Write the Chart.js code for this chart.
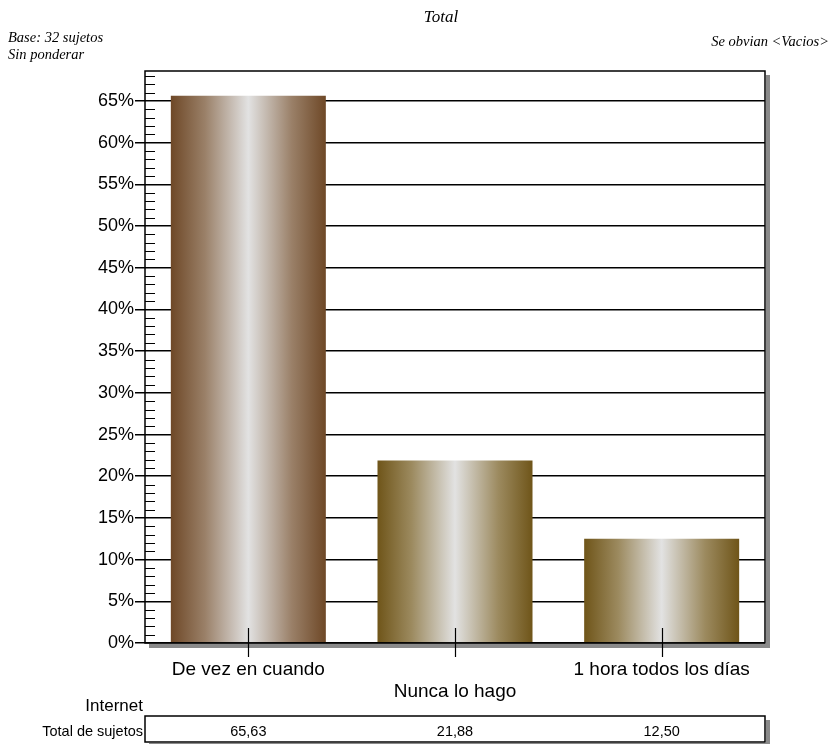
<!DOCTYPE html>
<html>
<head>
<meta charset="utf-8">
<script src="https://cdn.jsdelivr.net/npm/chart.js@4.4.1/dist/chart.umd.min.js"></script>
<style>
  html, body { margin: 0; padding: 0; background: #fff; }
  #wrap { position: relative; width: 833px; height: 744px; }
</style>
</head>
<body>
<div id="wrap"><canvas id="chart" width="833" height="744"></canvas></div>
<script>
/* =========================
   Datos
========================= */
const categories = [["De vez en cuando"], ["", "Nunca lo hago"], ["1 hora todos los días"]];
const percentages = [65.63, 21.88, 12.50];
const tableValues = ["65,63", "21,88", "12,50"];
const yTicks = [0, 5, 10, 15, 20, 25, 30, 35, 40, 45, 50, 55, 60, 65];
const yMax = 68.6;

const edgeColors = ['#6e4827', '#6f5519', '#6f5519'];
const midColors = ['#9a8068', '#9c8a5f', '#9c8a5f'];

/* =========================
   Gradiente de barras
========================= */
function barGradient(ctx) {
    const chart = ctx.chart;
    const xs = chart.scales.x;
    const i = ctx.dataIndex;
    if (!xs || !chart.chartArea) return edgeColors[i];
    const center = xs.getPixelForValue(i);
    const half = xs.width / categories.length * 0.75 / 2;
    const g = chart.ctx.createLinearGradient(center - half, 0, center + half, 0);
    g.addColorStop(0, edgeColors[i]);
    g.addColorStop(0.22, midColors[i]);
    g.addColorStop(0.5, '#e2e2e2');
    g.addColorStop(0.78, midColors[i]);
    g.addColorStop(1, edgeColors[i]);
    return g;
}

/* =========================
   Plugin: marco, ticks, textos y tabla
========================= */
const decor = {
    id: 'decor',
    beforeDatasetsDraw(chart) {
        const { ctx, chartArea: a } = chart;
        // sombra del marco
        ctx.save();
        ctx.fillStyle = '#8a8a8a';
        ctx.fillRect(a.right + 1, a.top + 4, 4, a.bottom - a.top + 1);
        ctx.fillRect(a.left + 4, a.bottom + 1, a.right - a.left + 1, 4);
        ctx.restore();
    },
    afterDatasetsDraw(chart) {
        const { ctx, chartArea: a, scales: { x, y } } = chart;
        ctx.save();
        // marco
        ctx.strokeStyle = '#000';
        ctx.lineWidth = 1.5;
        ctx.strokeRect(a.left, a.top, a.right - a.left, a.bottom - a.top);
        // ticks menores eje Y
        ctx.lineWidth = 1.2;
        ctx.beginPath();
        for (let v = 1; v < yMax; v++) {
            if (v % 5 === 0) continue;
            const py = Math.round(y.getPixelForValue(v)) + 0.5;
            ctx.moveTo(a.left, py);
            ctx.lineTo(a.left + 10, py);
        }
        // ticks eje X
        categories.forEach((c, i) => {
            const px = Math.round(x.getPixelForValue(i)) + 0.5;
            ctx.moveTo(px, a.bottom - 15);
            ctx.lineTo(px, a.bottom + 14);
        });
        ctx.stroke();

        // cabecera
        ctx.fillStyle = '#000';
        ctx.font = 'italic 17px "Liberation Serif"';
        ctx.textAlign = 'center';
        ctx.textBaseline = 'middle';
        ctx.fillText('Total', 441, 18);
        ctx.font = 'italic 14.5px "Liberation Serif"';
        ctx.textAlign = 'left';
        ctx.fillText('Base: 32 sujetos', 8, 38);
        ctx.fillText('Sin ponderar', 8, 55);
        ctx.textAlign = 'right';
        ctx.fillText('Se obvian <Vacios>', 829, 42);

        // tabla
        const tTop = 716, tBottom = 742;
        ctx.fillStyle = '#8a8a8a';
        ctx.fillRect(a.right + 1, tTop + 4, 4, tBottom - tTop);
        ctx.fillRect(a.left + 4, tBottom + 1, a.right - a.left, 4);
        ctx.strokeStyle = '#000';
        ctx.lineWidth = 1.5;
        ctx.strokeRect(a.left, tTop, a.right - a.left, tBottom - tTop);

        ctx.fillStyle = '#000';
        ctx.font = '17px "Liberation Sans"';
        ctx.textAlign = 'right';
        ctx.fillText('Internet', 143, 706);
        ctx.font = '14.5px "Liberation Sans"';
        ctx.fillText('Total de sujetos', 143, 732);
        ctx.textAlign = 'center';
        tableValues.forEach((t, i) => {
            ctx.fillText(t, x.getPixelForValue(i), 732);
        });
        ctx.restore();
    }
};

/* =========================
   Chart
========================= */
Chart.defaults.font.family = '"Liberation Sans", Arial, sans-serif';
Chart.defaults.color = '#000';

new Chart(document.getElementById('chart'), {
    type: 'bar',
    data: {
        labels: categories,
        datasets: [{
            data: percentages,
            backgroundColor: barGradient,
            borderWidth: 0,
            categoryPercentage: 1,
            barPercentage: 0.75
        }]
    },
    options: {
        responsive: false,
        animation: false,
        layout: { padding: { top: 71, right: 68, left: 0, bottom: 0 } },
        plugins: { legend: { display: false }, tooltip: { enabled: false } },
        scales: {
            x: {
                grid: { display: false, drawTicks: false },
                border: { display: false },
                ticks: { padding: 15, font: { size: 19 }, color: '#000', maxRotation: 0, autoSkip: false },
                afterFit(s) { s.height = 101; }
            },
            y: {
                min: 0,
                max: yMax,
                afterBuildTicks(s) { s.ticks = yTicks.map(v => ({ value: v })); },
                ticks: { padding: 1, font: { size: 18 }, color: '#000', callback: v => v + '%' },
                grid: { color: '#000', lineWidth: 1.5, tickLength: 10, tickColor: '#000', tickWidth: 1.5 },
                border: { display: false },
                afterFit(s) { s.width = 145; }
            }
        }
    },
    plugins: [decor]
});
</script>
</body>
</html>
